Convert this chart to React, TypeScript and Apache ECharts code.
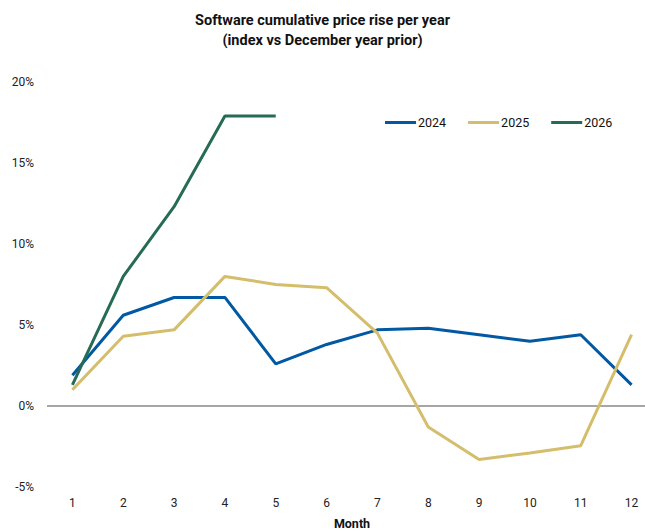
import React, { useEffect, useRef } from "react";
import * as echarts from "echarts";

const months = ["1", "2", "3", "4", "5", "6", "7", "8", "9", "10", "11", "12"];
const s2024 = [1.9, 5.6, 6.7, 6.7, 2.6, 3.8, 4.7, 4.8, 4.4, 4.0, 4.4, 1.3];
const s2025 = [1.0, 4.3, 4.7, 8.0, 7.5, 7.3, 4.5, -1.3, -3.3, -2.9, -2.45, 4.4];
const s2026 = [1.3, 8.0, 12.3, 17.9, 17.9];
const seriesNames = ["2024", "2025", "2026"];
const colors = ["#0059A2", "#D4BD6B", "#256B55"];

const FONT = "Roboto, 'Noto Sans', sans-serif";

export default function App() {
  const ref = useRef<HTMLDivElement>(null);
  useEffect(() => {
    if (!ref.current) return;
    const chart = echarts.init(ref.current, undefined, { renderer: "svg" });
    const data = [s2024, s2025, s2026];
    chart.setOption({
      animation: false,
      backgroundColor: "#ffffff",
      textStyle: { fontFamily: FONT },
      title: {
        text: "Software cumulative price rise per year\n(index vs December year prior)",
        left: "center",
        top: 5,
        textStyle: {
          fontFamily: FONT,
          fontSize: 14.5,
          fontWeight: "bold",
          color: "#111111",
          lineHeight: 20,
        },
      },
      legend: {
        data: seriesNames,
        left: 380,
        top: 111,
        icon: "rect",
        itemWidth: 31,
        itemHeight: 3,
        itemGap: 22,
        textStyle: { fontFamily: FONT, fontSize: 12.5, color: "#111111", padding: [0, 0, 0, -3] },
      },
      grid: {
        left: 47,
        right: -12,
        top: 82,
        bottom: 44,
        containLabel: false,
        outerBoundsMode: "none",
      },
      xAxis: {
        type: "category",
        data: months,
        boundaryGap: true,
        axisLine: { show: false },
        axisTick: { show: false },
        axisLabel: { color: "#222222", fontSize: 12, margin: 10, fontFamily: FONT },
        name: "Month",
        nameLocation: "middle",
        nameGap: 30,
        nameTextStyle: { fontWeight: "bold", fontSize: 12.5, color: "#111111", fontFamily: FONT },
      },
      yAxis: {
        type: "value",
        min: -5,
        max: 20,
        interval: 5,
        axisLine: { show: false },
        axisTick: { show: false },
        splitLine: { show: false },
        axisLabel: {
          formatter: "{value}%",
          color: "#222222",
          fontSize: 12,
          margin: 13,
          fontFamily: FONT,
        },
      },
      series: seriesNames.map((name, i) => ({
        name,
        type: "line",
        data: data[i],
        symbol: "none",
        showSymbol: false,
        color: colors[i],
        lineStyle: { width: 3, color: colors[i] },
        z: 3 + i,
        ...(i === 0
          ? {
              markLine: {
                silent: true,
                symbol: "none",
                label: { show: false },
                lineStyle: { color: "#888888", width: 1.5, type: "solid" },
                data: [{ yAxis: 0 }],
                z: 1,
              },
            }
          : {}),
      })),
    });
    return () => chart.dispose();
  }, []);
  return (
    <div
      ref={ref}
      style={{ position: "fixed", left: 0, top: 0, width: 645, height: 531 }}
    />
  );
}
